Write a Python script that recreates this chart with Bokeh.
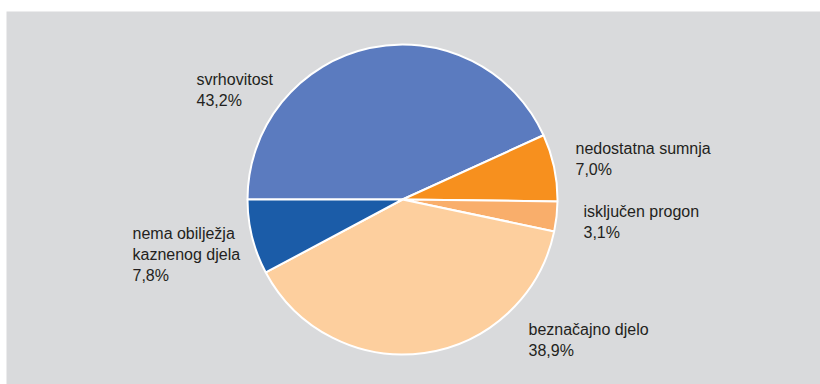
import numpy as np
from bokeh.plotting import figure
from bokeh.models import Range1d, ColumnDataSource
from bokeh.core.properties import value
from bokeh.embed import file_html
from bokeh.resources import INLINE

categories = ["svrhovitost", "nedostatna sumnja", "isključen progon",
              "beznačajno djelo", "nema obilježja\nkaznenog djela"]
shares = [43.2, 7.0, 3.1, 38.9, 7.8]
pct_labels = ["43,2%", "7,0%", "3,1%", "38,9%", "7,8%"]
colors = ["#5b7bbf", "#f7901e", "#f9ae6b", "#fdcf9e", "#1b5ca8"]

W, H = 820, 384
p = figure(width=W, height=H, output_backend="svg", toolbar_location=None,
           x_range=Range1d(0, W), y_range=Range1d(0, H),
           min_border=0, min_border_left=0, min_border_right=0,
           min_border_top=0, min_border_bottom=0)
p.axis.visible = False
p.grid.visible = False
p.outline_line_color = None
p.background_fill_color = "white"
p.border_fill_color = "white"

# gray panel
p.quad(left=[6], right=[W + 2], bottom=[-2], top=[H - 11], fill_color="#d9dadc", line_color=None)

cx, cy, r = 402, 185, 155
vals = np.array(shares) / sum(shares)
cum = np.concatenate([[0], np.cumsum(vals)])
start = np.pi - 2 * np.pi * cum[:-1]
end = np.pi - 2 * np.pi * cum[1:]
src = ColumnDataSource(dict(start=start, end=end, color=colors))
p.wedge(x=cx, y=cy, radius=r, start_angle="start", end_angle="end",
        direction="clock", fill_color="color", line_color="white", line_width=2,
        source=src)

# label layout anchors (top-left)
label_pos = [(196, 314), (575, 245), (583, 182), (528, 64), (132, 160)]
texts = [c + "\n" + v for c, v in zip(categories, pct_labels)]
lsrc = ColumnDataSource(dict(x=[a for a, b in label_pos], y=[b for a, b in label_pos], t=texts))
p.text(x="x", y="y", text="t", source=lsrc, text_font=value("Liberation Sans"),
       text_font_size="16px", text_color="#231f20", text_baseline="top",
       text_align="left", text_line_height=1.25)

open("out.html", "w").write(file_html(p, INLINE))
